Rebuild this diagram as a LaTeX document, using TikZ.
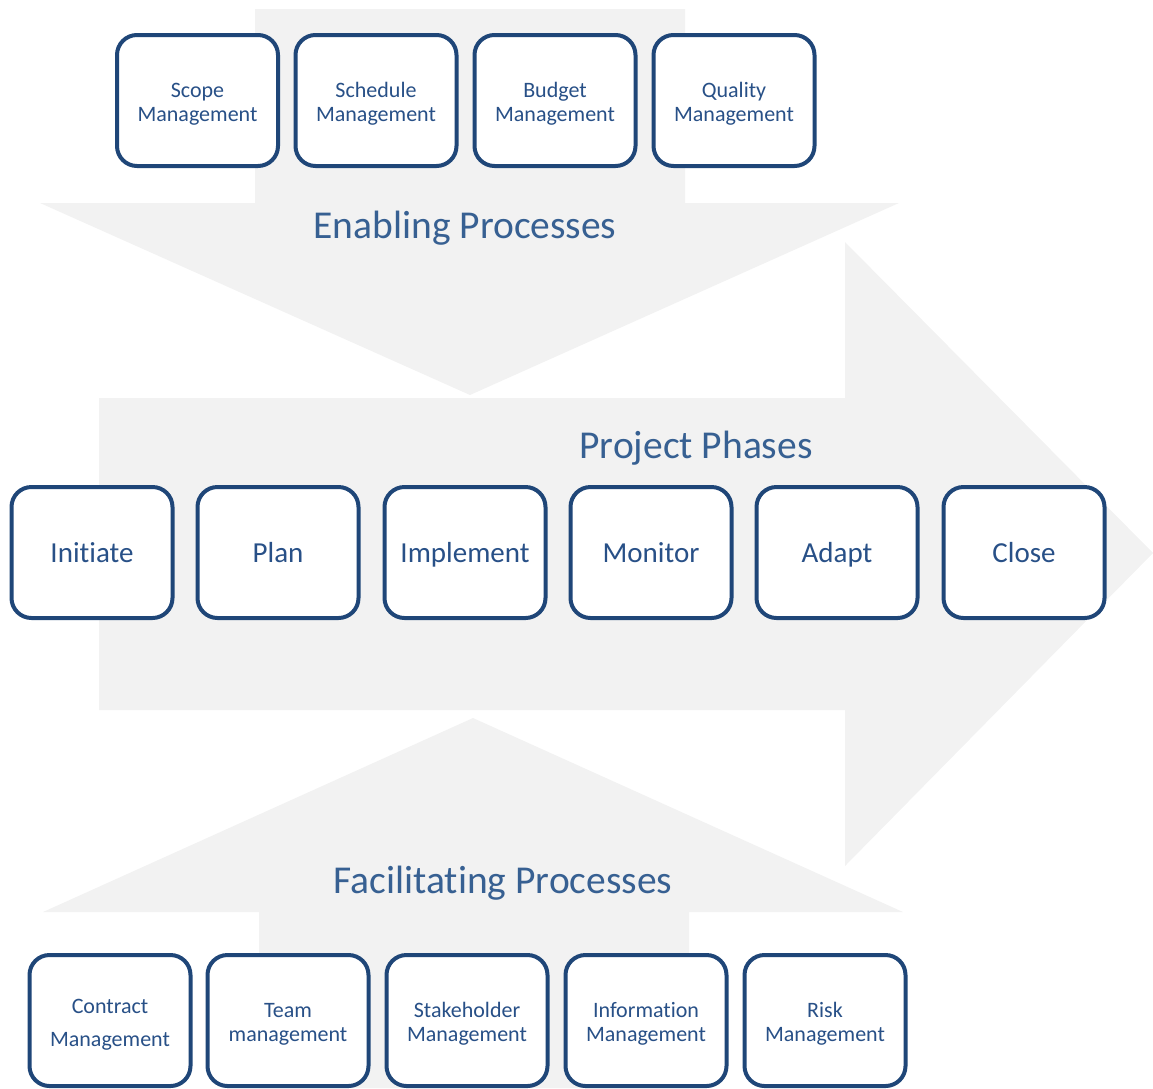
\documentclass[tikz,border=0pt]{standalone}
\usepackage{fontspec}
\setmainfont{Carlito}[Ligatures=CommonOff]
\definecolor{arrowgray}{HTML}{F2F2F2}
\definecolor{boxline}{RGB}{31,70,120}
\definecolor{boxtext}{RGB}{40,80,135}
\definecolor{titletext}{RGB}{55,96,146}
\begin{document}
\begin{tikzpicture}[x=1pt,y=-1pt,
  bigarrow/.style={fill=arrowgray,draw=none},
  pbox/.style={draw=boxline,line width=4pt,fill=white,rounded corners=20pt,
    minimum width=161pt,minimum height=131pt,inner sep=0pt,text=boxtext},
  smallbox/.style={pbox,align=center,font=\fontsize{22}{23.5}\selectfont,text height=45pt},
  phasebox/.style={pbox,font=\fontsize{29}{32}\selectfont,text height=19.5pt,text depth=0pt},
  title/.style={anchor=base,text=titletext,font=\fontsize{39.5}{44}\selectfont,inner sep=0pt}]
\useasboundingbox (0,0) rectangle (1153,1088);
% gray arrows
\fill[bigarrow] (255,9) -- (685,9) -- (685,203) -- (899,203) -- (470,395) -- (40,203) -- (255,203) -- cycle;
\fill[bigarrow] (99,398) -- (845,398) -- (845,242) -- (1153,553) -- (845,866) -- (845,710) -- (99,710) -- cycle;
\fill[bigarrow] (473,718) -- (903,912) -- (689,912) -- (689,1088) -- (259,1088) -- (259,912) -- (43,912) -- cycle;
% titles
\node[title] (enab) at (465,238) {Enabling Processes};
\node[title] (phases) at (696,458) {Project Phases};
\node[title] (facil) at (503,893) {Facilitating Processes};
% top boxes
\node[smallbox] (scope) at (197.5,100.5) {Scope\\Management};
\node[smallbox] (sched) at (376,100.5) {Schedule\\Management};
\node[smallbox] (budget) at (555,100.5) {Budget\\Management};
\node[smallbox] (quality) at (734,100.5) {Quality\\Management};
% phase boxes
\node[phasebox] (initiate) at (92,552.5) {Initiate};
\node[phasebox] (plan) at (278,552.5) {Plan};
\node[phasebox] (implement) at (465,552.5) {Implement};
\node[phasebox] (monitor) at (651,552.5) {Monitor};
\node[phasebox] (adapt) at (837,552.5) {Adapt};
\node[phasebox] (close) at (1024,552.5) {Close};
% bottom boxes
\node[smallbox,text height=55pt] (contract) at (110,1020.5) {Contract\\[9.5pt]Management};
\node[smallbox] (team) at (288,1020.5) {Team\\management};
\node[smallbox] (stake) at (467,1020.5) {Stakeholder\\Management};
\node[smallbox] (info) at (646,1020.5) {Information\\Management};
\node[smallbox] (risk) at (825,1020.5) {Risk\\Management};
\end{tikzpicture}
\end{document}
